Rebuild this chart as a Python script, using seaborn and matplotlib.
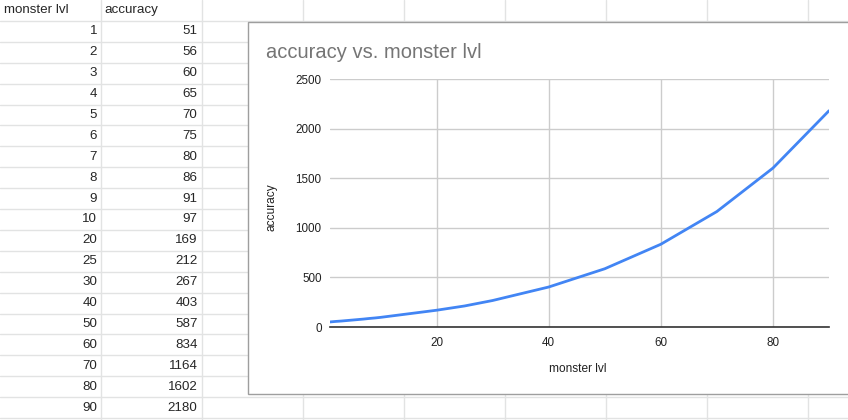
import numpy as np
import pandas as pd
import seaborn as sns
from matplotlib import pyplot as plt
from matplotlib.patches import Rectangle

# datos de la hoja
monster_lvl = [1, 2, 3, 4, 5, 6, 7, 8, 9, 10, 20, 25, 30, 40, 50, 60, 70, 80, 90]
accuracy = [51, 56, 60, 65, 70, 75, 80, 86, 91, 97, 169, 212, 267, 403, 587, 834, 1164, 1602, 2180]
headers = ['monster lvl', 'accuracy']
x_ticks = [20, 40, 60, 80]
y_ticks = [0, 500, 1000, 1500, 2000, 2500]

df = pd.DataFrame({'monster lvl': monster_lvl, 'accuracy': accuracy})

sns.set_style('white')
plt.rcParams['font.family'] = ['Liberation Sans', 'DejaVu Sans']

W, H = 848, 420
fig = plt.figure(figsize=(W / 100, H / 100), dpi=100)

# fondo tipo hoja de cálculo, en coordenadas de píxel
bg = fig.add_axes([0, 0, 1, 1], zorder=0)
bg.set_xlim(0, W)
bg.set_ylim(H, 0)
bg.axis('off')

row_h = 20.9
col_w = 101
grid_c = '#e2e3e3'
for i in range(1, 21):
    bg.axhline(i * row_h, color=grid_c, lw=1)
for j in range(1, 9):
    bg.axvline(j * col_w, color=grid_c, lw=1)

bg.text(3.5, row_h / 2, headers[0], ha='left', va='center', fontsize=9.6)
bg.text(104.5, row_h / 2, headers[1], ha='left', va='center', fontsize=9.6)
for i, (lv, ac) in enumerate(zip(df['monster lvl'], df['accuracy'])):
    y = row_h * (i + 1.5)
    bg.text(97, y, str(lv), ha='right', va='center', fontsize=9.6)
    bg.text(197.5, y, str(ac), ha='right', va='center', fontsize=9.6)

# recuadro del gráfico
bg.add_patch(Rectangle((247.5, 22), 700, 372, facecolor='white',
                       edgecolor='#9e9e9e', lw=1, zorder=2))
bg.text(266, 58, 'accuracy vs. monster lvl', ha='left', va='baseline',
        fontsize=14.5, color='#757575', zorder=3)
bg.text(578, 369, 'monster lvl', ha='center', va='center',
        fontsize=8.6, color='#222222', zorder=3)
bg.text(272, 207, 'accuracy', ha='center', va='center', rotation=90,
        fontsize=8.6, color='#222222', zorder=3)

# gráfico de línea
x0, x1 = 330, 829
y0, y1 = 327, 79
ax = fig.add_axes([x0 / W, (H - y0) / H, (x1 - x0) / W, (y0 - y1) / H], zorder=1)
ax.set_facecolor('none')
sns.lineplot(data=df, x='monster lvl', y='accuracy', ax=ax,
             color='#4285F4', lw=2, zorder=3)
ax.set_xlim(1, 90)
ax.set_ylim(0, 2500)
ax.set_xticks(x_ticks)
ax.set_yticks(y_ticks)
ax.set_xlabel('')
ax.set_ylabel('')
ax.grid(True, color='#cccccc', lw=1)
ax.set_axisbelow(True)
for s in ['left', 'right', 'top']:
    ax.spines[s].set_visible(False)
ax.spines['bottom'].set_color('#333333')
ax.spines['bottom'].set_linewidth(1.2)
ax.tick_params(axis='both', length=0, labelsize=8.4, colors='#222222')
ax.tick_params(axis='x', pad=7)
ax.tick_params(axis='y', pad=6)

fig.savefig('out.png', dpi=100)
